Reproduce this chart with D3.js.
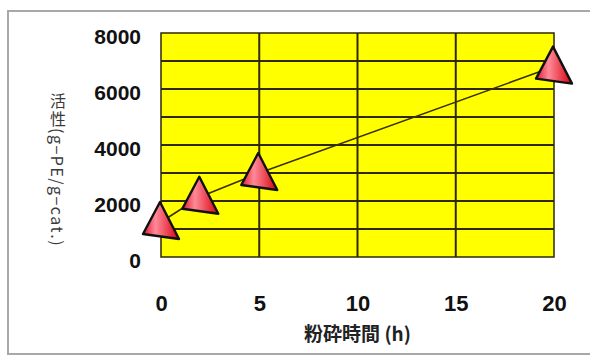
<!DOCTYPE html>
<html>
<head>
<meta charset="utf-8">
<script src="https://cdn.jsdelivr.net/npm/d3@7"></script>
<style>
  body { margin: 0; background: #fff; }
  svg { display: block; }
</style>
</head>
<body>
<div id="app"></div>
<script>
// data
const hours = [0, 2, 5, 20]
const activity = [1250, 2150, 3000, 6800]
const xTicks = [0, 5, 10, 15, 20]
const yTicks = [0, 2000, 4000, 6000, 8000]
const yGrid = [1000, 2000, 3000, 4000, 5000, 6000, 7000]
const xGrid = [5, 10, 15]
const xTitle = '粉砕時間 (h)'
const yTitle = '活性(g−PE/g−cat.)'

const margin = { left: 161, top: 33, right: 36, bottom: 99 }
const bounds = {
  width: 590 - margin.left - margin.right,
  height: 356 - margin.top - margin.bottom
}

const root = d3.select('#app')
  .append('svg')
    .attr('width', 590)
    .attr('height', 356)

// outer frame
root.append('rect')
  .attr('x', 8).attr('y', 11)
  .attr('width', 600).attr('height', 343)
  .attr('fill', 'none')
  .attr('stroke', '#a8a8a8')
  .attr('stroke-width', 2)

// marker gradient
const grad = root.append('defs').append('linearGradient')
  .attr('id', 'tri')
  .attr('x1', '0%').attr('x2', '100%')
  .attr('y1', '0%').attr('y2', '0%')
grad.append('stop').attr('offset', '0%').attr('stop-color', '#e01830')
grad.append('stop').attr('offset', '35%').attr('stop-color', '#ff8a98')
grad.append('stop').attr('offset', '100%').attr('stop-color', '#d80010')

const svg = root.append('g')
  .attr('transform', `translate(${margin.left}, ${margin.top})`)

const xScale = d3.scaleLinear().domain([0, 20]).range([0, bounds.width])
const yScale = d3.scaleLinear().domain([0, 8000]).range([bounds.height, 0])

// plot background
svg.append('rect')
  .attr('width', bounds.width)
  .attr('height', bounds.height)
  .attr('fill', '#ffff00')

// grid
svg.selectAll('.hgrid')
  .data(yGrid)
  .join('line')
    .attr('x1', 0).attr('x2', bounds.width)
    .attr('y1', d => yScale(d)).attr('y2', d => yScale(d))
    .attr('stroke', '#2e2900')
    .attr('stroke-width', 2)
svg.selectAll('.vgrid')
  .data(xGrid)
  .join('line')
    .attr('y1', 0).attr('y2', bounds.height)
    .attr('x1', d => xScale(d)).attr('x2', d => xScale(d))
    .attr('stroke', '#2e2900')
    .attr('stroke-width', 2)

svg.append('rect')
  .attr('width', bounds.width)
  .attr('height', bounds.height)
  .attr('fill', 'none')
  .attr('stroke', '#2e2900')
  .attr('stroke-width', 1.5)

// axes (labels only)
const xAxis = svg.append('g')
  .attr('transform', `translate(0, ${bounds.height})`)
  .call(d3.axisBottom(xScale).tickValues(xTicks).tickSize(0).tickPadding(38))
const yAxis = svg.append('g')
  .call(d3.axisLeft(yScale).tickValues(yTicks).tickFormat(d3.format('d')).tickSize(0).tickPadding(20))
;[xAxis, yAxis].forEach(a => {
  a.select('.domain').remove()
  a.selectAll('text')
    .attr('fill', '#111')
    .attr('font-family', '"Liberation Sans", Arial, sans-serif')
    .attr('font-weight', 'bold')
})
xAxis.selectAll('text').attr('font-size', 22)
yAxis.selectAll('text').attr('font-size', 21).attr('dy', '0.48em')

// line
const line = d3.line()
  .x((d, i) => xScale(hours[i]))
  .y(d => yScale(d))
svg.append('path')
  .datum(activity)
  .attr('d', line)
  .attr('fill', 'none')
  .attr('stroke', '#3a3000')
  .attr('stroke-width', 1.6)

// markers
const triShape = 'M-1,-20L18,17L-18,12Z'
svg.selectAll('.mark')
  .data(activity)
  .join('path')
    .attr('class', 'mark')
    .attr('d', triShape)
    .attr('transform', (d, i) => `translate(${xScale(hours[i])}, ${yScale(d)})`)
    .attr('fill', 'url(#tri)')
    .attr('stroke', '#111')
    .attr('stroke-width', 2.4)
    .attr('stroke-linejoin', 'round')

// titles
root.append('text')
  .attr('x', margin.left + bounds.width / 2)
  .attr('y', 341)
  .attr('text-anchor', 'middle')
  .attr('font-family', '"Noto Sans CJK JP", sans-serif')
  .attr('font-weight', 'bold')
  .attr('font-size', 19)
  .attr('fill', '#222')
  .text(xTitle)

root.append('text')
  .attr('x', 58)
  .attr('y', 93)
  .attr('fill', '#3a3a3a')
  .attr('font-family', '"Noto Sans CJK JP", sans-serif')
  .attr('font-size', 16)
  .style('writing-mode', 'vertical-rl')
  .style('text-orientation', 'mixed')
  .style('letter-spacing', '1.5px')
  .text(yTitle)
</script>
</body>
</html>
